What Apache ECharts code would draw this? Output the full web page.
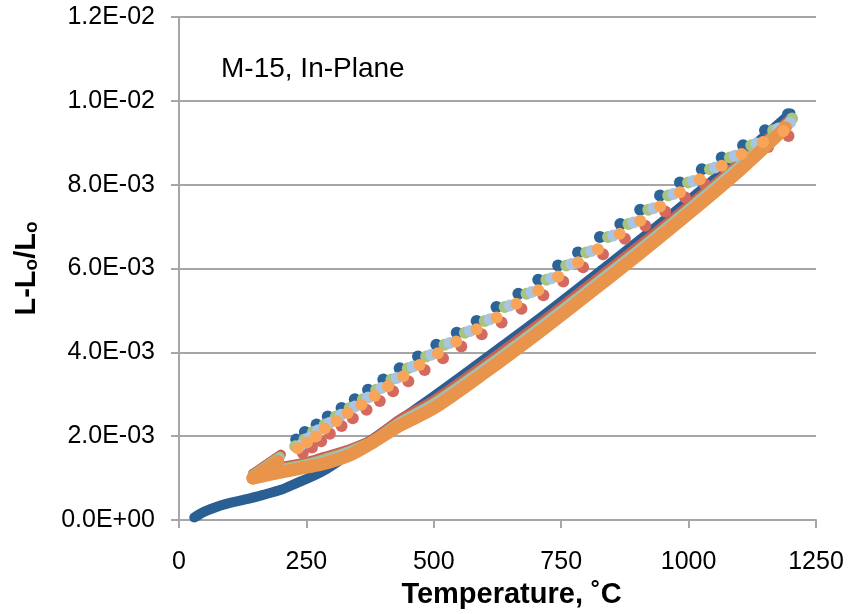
<!DOCTYPE html>
<html>
<head>
<meta charset="utf-8">
<script src="https://cdn.jsdelivr.net/npm/echarts@6/dist/echarts.min.js"></script>
<style>
  html, body { margin: 0; padding: 0; background: #fff; }
  #chart { width: 848px; height: 614px; }
</style>
</head>
<body>
<div id="chart"></div>
<script>
// Dilatometry of sample M-15 (in-plane). Strain values are in units of 1e-3.
const specimenLabel = 'M-15, In-Plane';
const xTicks = { min: 0, max: 1250, step: 250 };
const yTicks = { min: 0, max: 12, step: 2 };

// Run 1 (blue): heating from room temperature, then cooling
const blueHeating = [[30,0.06],[50,0.20],[80,0.34],[100,0.41],[130,0.49],[165,0.60],[200,0.72],[231,0.88],[263,1.05],[290,1.22],[322,1.47],[350,1.68],[374,1.88],[400,2.10],[440,2.44],[500,2.95],[600,3.84],[700,4.74],[787,5.56],[900,6.64],[1000,7.62],[1100,8.64],[1200,9.70]];
const blueCooling = [[1195,9.68],[1150,9.30],[1107,8.94],[1065,8.65],[1026,8.37],[983,8.05],[944,7.74],[905,7.40],[866,7.06],[826,6.75],[783,6.38],[744,6.07],[705,5.73],[666,5.40],[623,5.08],[584,4.75],[545,4.47],[505,4.18],[469,3.90],[433,3.62],[401,3.35],[371,3.11],[345,2.88],[319,2.67],[292,2.47],[270,2.28],[247,2.10],[230,1.92]];

// Run 2 (red)
const redHeating = [[145,1.10],[200,1.26],[250,1.38],[283,1.50],[335,1.69],[381,1.93],[433,2.40],[500,2.86],[600,3.72],[700,4.62],[787,5.44],[900,6.52],[1000,7.50],[1100,8.52],[1195,9.52]];
const redCooling = [[1196,9.16],[1156,8.90],[1114,8.61],[1075,8.33],[1032,8.01],[993,7.70],[954,7.36],[915,7.02],[875,6.71],[832,6.34],[793,6.03],[754,5.69],[715,5.36],[672,5.04],[633,4.71],[594,4.43],[554,4.14],[518,3.86],[482,3.58],[450,3.31],[420,3.07],[394,2.84],[368,2.63],[341,2.43],[319,2.24],[296,2.06],[279,1.88],[261,1.73],[243,1.60]];
const redCoolingEnd = [[200,1.56],[145,1.10]];

// Run 3 (green)
const greenHeating = [[145,1.07],[200,1.22],[250,1.34],[283,1.45],[335,1.65],[381,1.90],[433,2.34],[500,2.79],[600,3.64],[700,4.54],[787,5.36],[900,6.44],[1000,7.43],[1100,8.46],[1195,9.47]];
const greenCooling = [[1203,9.58],[1166,9.30],[1123,8.94],[1081,8.65],[1042,8.37],[999,8.05],[960,7.74],[921,7.40],[882,7.06],[842,6.75],[799,6.38],[760,6.07],[721,5.73],[682,5.40],[639,5.08],[600,4.75],[561,4.47],[521,4.18],[485,3.90],[449,3.62],[417,3.35],[387,3.11],[361,2.88],[335,2.67],[308,2.47],[286,2.28],[263,2.10],[246,1.92],[228,1.76]];
const greenCoolingEnd = [[198,1.51],[145,1.07]];

// Run 4 (light blue)
const cyanHeating = [[145,1.04],[200,1.19],[250,1.31],[283,1.40],[335,1.62],[381,1.88],[433,2.31],[500,2.75],[600,3.60],[700,4.50],[787,5.32],[900,6.40],[1000,7.39],[1100,8.42],[1195,9.43]];
const cyanCooling = [[1199,9.48],[1176,9.34],[1133,8.98],[1091,8.69],[1052,8.41],[1009,8.09],[970,7.78],[931,7.44],[892,7.10],[852,6.79],[809,6.42],[770,6.11],[731,5.77],[692,5.44],[649,5.12],[610,4.79],[571,4.51],[531,4.22],[495,3.94],[459,3.66],[427,3.39],[397,3.15],[371,2.92],[345,2.71],[318,2.51],[296,2.32],[273,2.14],[256,1.96],[238,1.78]];
const cyanCoolingEnd = [[197,1.47],[145,1.04]];

// Run 5 (orange)
const orangeHeating = [[145,1.00],[200,1.14],[250,1.26],[283,1.34],[335,1.55],[381,1.86],[433,2.25],[500,2.67],[600,3.52],[700,4.42],[787,5.24],[900,6.32],[1000,7.31],[1100,8.34],[1190,9.36]];
const orangeCooling = [[1186,9.28],[1146,9.02],[1104,8.73],[1065,8.45],[1022,8.13],[983,7.82],[944,7.48],[905,7.14],[865,6.83],[822,6.46],[783,6.15],[744,5.81],[705,5.48],[662,5.16],[623,4.83],[584,4.55],[544,4.26],[508,3.98],[472,3.70],[440,3.43],[410,3.19],[384,2.96],[358,2.75],[331,2.55],[309,2.36],[286,2.18],[269,2.00],[251,1.85],[233,1.71]];
const orangeCoolingEnd = [[194,1.40],[145,1.00]];

const runs = [
  { heat: blueHeating,   cool: blueCooling,   tail: null,             line: '#2A5F94', dot: '#2C6399', width: 10 },
  { heat: redHeating,    cool: redCooling,    tail: redCoolingEnd,    line: '#CC5F55', dot: '#D4695F', width: 10 },
  { heat: greenHeating,  cool: greenCooling,  tail: greenCoolingEnd,  line: '#A3BF76', dot: '#A8C47E', width: 10 },
  { heat: cyanHeating,   cool: cyanCooling,   tail: cyanCoolingEnd,   line: '#A2BFE0', dot: '#A9C5E4', width: 10 },
  { heat: orangeHeating, cool: orangeCooling, tail: orangeCoolingEnd, line: '#E8944A', dot: '#F8A55A', width: 13 }
];

const axisGray = '#A6A6A6';
const font = '"Liberation Sans", Arial, sans-serif';

function sciLabel(v) {
  const x = v / 1000;
  if (Math.abs(x) < 1e-12) return '0.0E+00';
  const e = Math.floor(Math.log10(Math.abs(x)) + 1e-9);
  const m = x / Math.pow(10, e);
  return m.toFixed(1) + 'E' + (e < 0 ? '-' : '+') + String(Math.abs(e)).padStart(2, '0');
}

const series = [];
runs.forEach((r, i) => {
  const z = 2 + i;
  series.push({
    type: 'line', data: r.heat, smooth: 0.3, showSymbol: false, z: z,
    lineStyle: { color: r.line, width: r.width, cap: 'round', join: 'round' },
    silent: true, animation: false
  });
  if (r.tail) {
    series.push({
      type: 'line', data: r.tail, smooth: false, showSymbol: false, z: z,
      lineStyle: { color: r.line, width: r.width, cap: 'round', join: 'round' },
      silent: true, animation: false
    });
  }
  series.push({
    type: 'scatter', data: r.cool, symbol: 'circle', symbolSize: 12, z: z,
    itemStyle: { color: r.dot, opacity: 1 },
    silent: true, animation: false
  });
});

const chart = echarts.init(document.getElementById('chart'), null, { renderer: 'canvas' });
chart.setOption({
  backgroundColor: '#fff',
  animation: false,
  title: {
    text: specimenLabel, left: 216, top: 50,
    textStyle: { fontFamily: font, fontSize: 28, fontWeight: 'normal', color: '#000' }
  },
  grid: { left: 179, right: 32, top: 17, bottom: 92, containLabel: false },
  xAxis: {
    type: 'value', min: xTicks.min, max: xTicks.max, interval: xTicks.step,
    name: 'Temperature, ˚C', nameLocation: 'middle', nameGap: 60,
    nameTextStyle: { fontFamily: font, fontSize: 29, fontWeight: 'bold', color: '#000', padding: [0, 0, 0, 28] },
    axisLine: { show: true, lineStyle: { color: axisGray, width: 2 } },
    axisTick: { show: true, length: 8, lineStyle: { color: axisGray, width: 2 } },
    axisLabel: { fontFamily: font, fontSize: 25, color: '#000', margin: 30, formatter: v => String(v) },
    splitLine: { show: false }
  },
  yAxis: {
    type: 'value', min: yTicks.min, max: yTicks.max, interval: yTicks.step,
    name: '{a|L-L}{s|o}{a|/L}{s|o}', nameLocation: 'middle', nameGap: 138,
    nameTextStyle: {
      fontFamily: font, fontWeight: 'bold', color: '#000',
      rich: {
        a: { fontFamily: font, fontSize: 29, fontWeight: 'bold', color: '#000', lineHeight: 36, verticalAlign: 'bottom' },
        s: { fontFamily: font, fontSize: 19, fontWeight: 'bold', color: '#000', lineHeight: 28, verticalAlign: 'bottom' }
      }
    },
    axisLine: { show: true, lineStyle: { color: axisGray, width: 2 } },
    axisTick: { show: true, length: 8, lineStyle: { color: axisGray, width: 2 } },
    axisLabel: { fontFamily: font, fontSize: 25, color: '#000', margin: 24, formatter: sciLabel },
    splitLine: { show: true, lineStyle: { color: axisGray, width: 2 } }
  },
  series: series
});
</script>
</body>
</html>
